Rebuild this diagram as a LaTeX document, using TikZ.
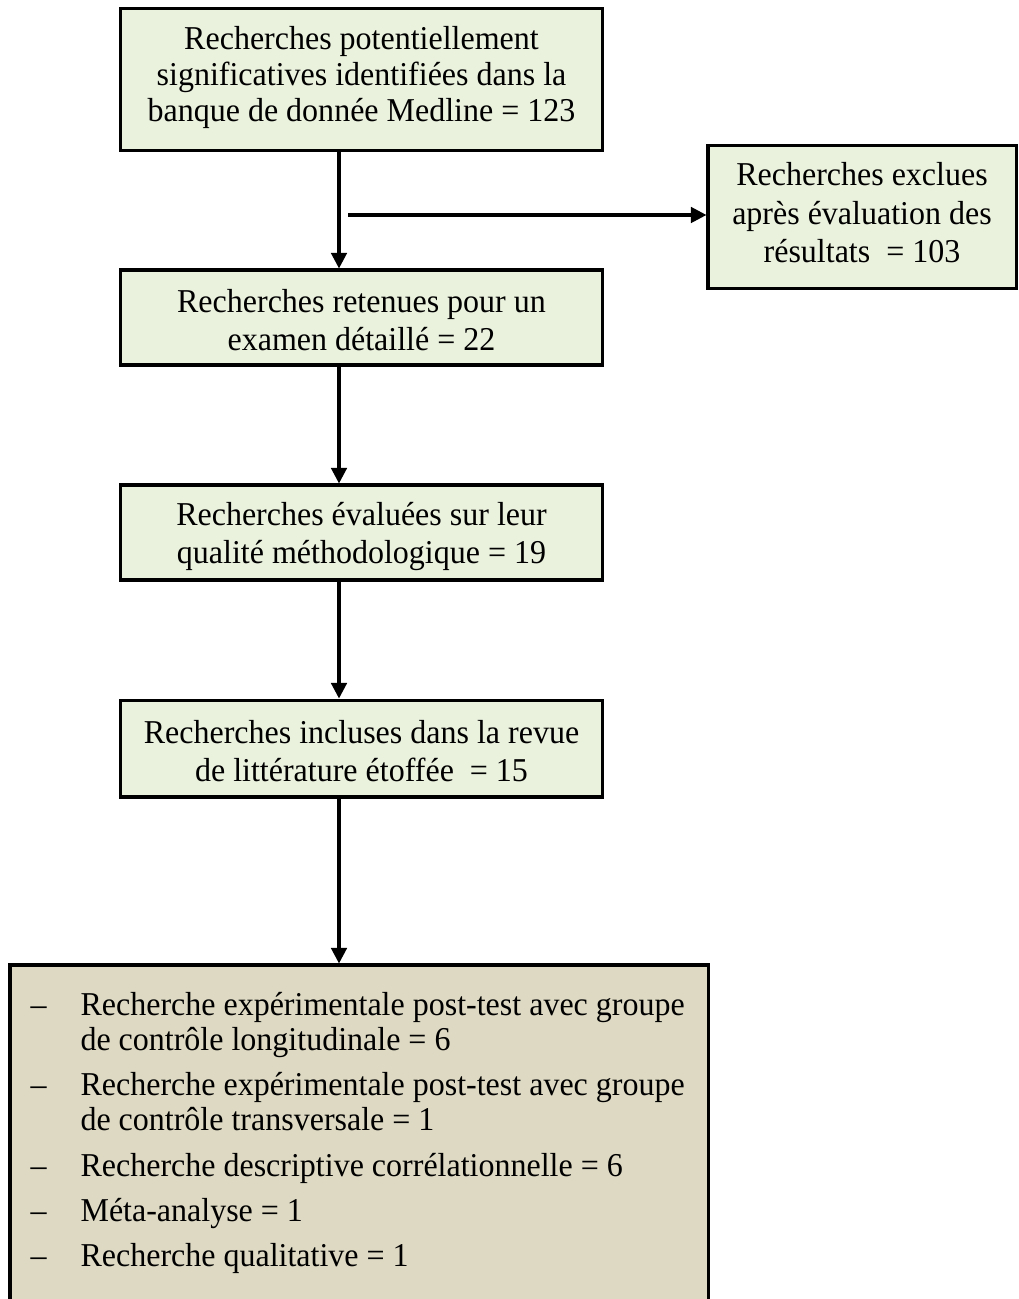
\documentclass[tikz,border=0pt]{standalone}
\usepackage{fontspec}
\setmainfont{Liberation Serif}[FakeStretch=0.96]
\usepackage{tikz}
\usetikzlibrary{calc}
\usetikzlibrary{positioning}
\usetikzlibrary{arrows.meta}

\definecolor{boxgreen}{HTML}{EAF1DD}
\definecolor{boxtan}{HTML}{DDD9C3}

\tikzset{
	etape/.style={rectangle, draw, line width=1.1pt, fill=boxgreen, align=center, inner sep=0pt, font=\fontsize{12}{13.8}\selectfont},
	fleche/.style={line width=1.1pt, -{Triangle[length=5.6pt,width=5.6pt]}},
	ligne/.style={anchor=base west, inner sep=0pt, font=\fontsize{12}{13.8}\selectfont}
}

\begin{document}
\begin{tikzpicture}[x=0.36pt, y=-0.36pt]
				\useasboundingbox (0,0) rectangle (1018,1299);
				\node[etape, font=\fontsize{12}{13.1}\selectfont, minimum width=173.2pt, minimum height=50.8pt] (A) at (361.5,79.5) {Recherches potentiellement\\significatives identifiées dans la\\banque de donnée Medline = 123\rule[-4pt]{0pt}{0pt}};
				\node[etape, minimum width=110.9pt, minimum height=51.8pt] (B) at (862,217) {Recherches exclues\\après évaluation des\\résultats \ = 103\rule[-3.1pt]{0pt}{0pt}};
				\node[etape, minimum width=173.2pt, minimum height=34.2pt] (C) at (361.5,317.5) {\rule{0pt}{10pt}Recherches retenues pour un\\examen détaillé = 22};
				\node[etape, minimum width=173.2pt, minimum height=34.2pt] (D) at (361.5,532.5) {\rule{0pt}{11pt}Recherches évaluées sur leur\\qualité méthodologique = 19};
				\node[etape, minimum width=173.2pt, minimum height=34.9pt] (E) at (361.5,748.5) {\rule{0pt}{10.2pt}Recherches incluses dans la revue\\de littérature étoffée \ = 15};
				\node[etape, fill=boxtan, minimum width=251.3pt, minimum height=135pt] (F) at (359,1152.5) {};
				
				\coordinate (axe) at (339,0);
				\coordinate (branche) at (348,215);
				
				\draw[fleche]  (A.south -| axe) -- (C.north -| axe);
				\draw[fleche]  (branche) -- (branche -| B.west);
				\draw[fleche]  (C.south -| axe) -- (D.north -| axe);
				\draw[fleche]  (D.south -| axe) -- (E.north -| axe);
				\draw[fleche]  (E.south -| axe) -- (F.north -| axe);
				
				\foreach \y [count=\i] in {1015,1095,1176,1221,1266}
					\node[ligne] (t\i) at (30,\y) {--};
				\foreach \y/\t [count=\i] in {1015/Recherche expérimentale post-test avec groupe, 1050/de contrôle longitudinale = 6, 1095/Recherche expérimentale post-test avec groupe, 1130/de contrôle transversale = 1, 1176/Recherche descriptive corrélationnelle = 6, 1221/Méta-analyse = 1, 1266/Recherche qualitative = 1}
					\node[ligne] (l\i) at (80,\y) {\t};
			\end{tikzpicture}
\end{document}
